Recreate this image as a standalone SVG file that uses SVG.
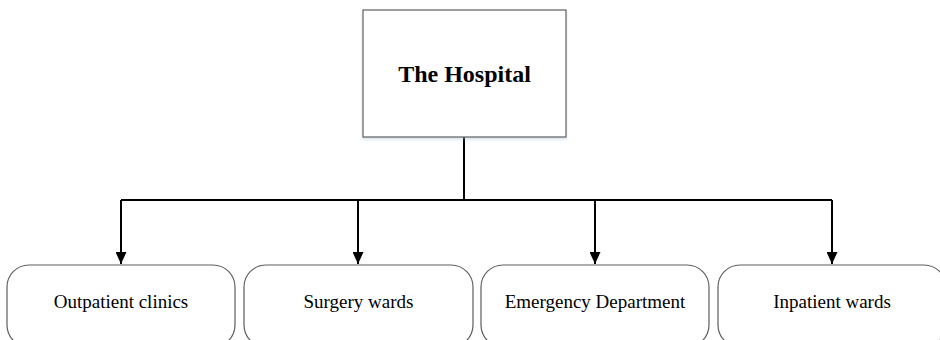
<svg xmlns="http://www.w3.org/2000/svg" width="940" height="340" viewBox="0 0 940 340">
  <style>
    .box { fill: #ffffff; stroke: #5e5e5e; stroke-width: 1.2; }
    .wire { fill: none; stroke: #000000; stroke-width: 2; }
    .title { font-family: "Liberation Serif", "Times New Roman", serif; font-size: 24px; font-weight: bold; fill: #000000; text-anchor: middle; }
    .label { font-family: "Liberation Serif", "Times New Roman", serif; font-size: 19px; fill: #000000; text-anchor: middle; }
  </style>
  <defs>
    <marker id="arrow" viewBox="0 0 12 11" refX="12" refY="5.5" markerWidth="12" markerHeight="11" markerUnits="userSpaceOnUse" orient="auto">
      <path d="M0,0 L12,5.5 L0,11 Z" fill="#000000"/>
    </marker>
    <filter id="shadow" x="-10%" y="-10%" width="120%" height="130%">
      <feDropShadow dx="0" dy="2" stdDeviation="1.5" flood-color="#9fb6d0" flood-opacity="0.4"/>
    </filter>
  </defs>
  <rect width="940" height="340" fill="#ffffff"/>

  <g id="connectors">
    <path class="wire" d="M464,137 V200"/>
    <path class="wire" d="M121,200 H832"/>
    <path class="wire" d="M121,200 V264" marker-end="url(#arrow)"/>
    <path class="wire" d="M358,200 V264" marker-end="url(#arrow)"/>
    <path class="wire" d="M595,200 V264" marker-end="url(#arrow)"/>
    <path class="wire" d="M832,200 V264" marker-end="url(#arrow)"/>
  </g>

  <g id="hospital">
    <rect class="box" x="363" y="10" width="203" height="127" filter="url(#shadow)"/>
    <text class="title" x="464.5" y="82">The Hospital</text>
  </g>

  <g id="outpatient">
    <rect class="box" x="7" y="265" width="228" height="82" rx="22" ry="22"/>
    <text class="label" x="121" y="308">Outpatient clinics</text>
  </g>

  <g id="surgery">
    <rect class="box" x="244" y="265" width="229" height="82" rx="22" ry="22"/>
    <text class="label" x="358.5" y="308">Surgery wards</text>
  </g>

  <g id="emergency">
    <rect class="box" x="481" y="265" width="228" height="82" rx="22" ry="22"/>
    <text class="label" x="595" y="308">Emergency Department</text>
  </g>

  <g id="inpatient">
    <rect class="box" x="718" y="265" width="228" height="82" rx="22" ry="22"/>
    <text class="label" x="832" y="308">Inpatient wards</text>
  </g>
</svg>
